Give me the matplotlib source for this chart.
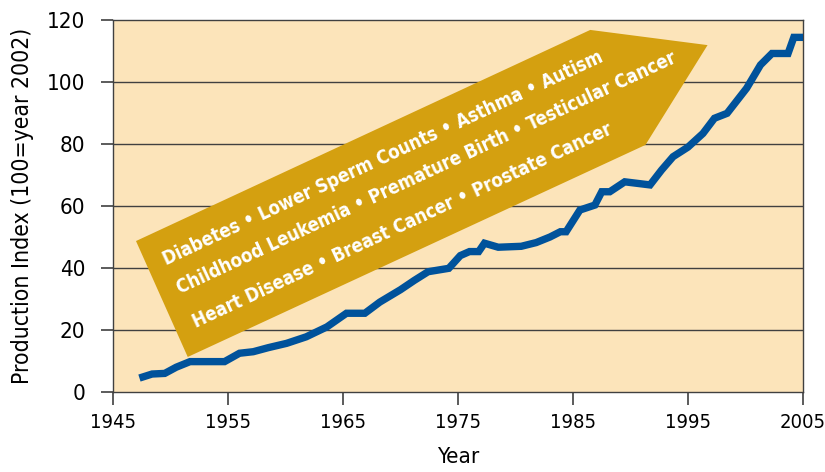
import numpy as np
import matplotlib.pyplot as plt
from matplotlib.patches import Polygon

# dados
anos = [1947.3, 1948.4, 1949.5, 1950.5, 1951.7, 1953.0, 1954.7, 1956.0, 1957.2, 1958.5,
        1960.1, 1961.8, 1963.6, 1965.3, 1966.9, 1968.2, 1970.0, 1971.2, 1972.4, 1974.2,
        1975.2, 1976.0, 1976.8, 1977.3, 1978.5, 1980.5, 1981.8, 1983.0, 1983.9, 1984.4,
        1985.6, 1986.9, 1987.5, 1988.2, 1989.5, 1991.7, 1992.7, 1993.7, 1995.0, 1996.3,
        1997.3, 1998.4, 2000.1, 2001.3, 2002.3, 2003.7, 2004.2, 2005.0]
indice = [4.5, 5.8, 6.0, 8.0, 9.8, 9.8, 9.8, 12.5, 13.0, 14.3,
          15.7, 17.8, 21.0, 25.4, 25.4, 29.0, 33.0, 36.0, 38.8, 39.9,
          44.0, 45.3, 45.3, 48.0, 46.7, 47.0, 48.2, 50.0, 51.7, 51.7,
          58.7, 60.3, 64.6, 64.6, 67.8, 66.8, 71.6, 75.9, 79.0, 83.4,
          88.3, 89.9, 98.0, 105.5, 109.2, 109.2, 114.4, 114.4]

anos_ticks = [1945, 1955, 1965, 1975, 1985, 1995, 2005]
y_ticks = [0, 20, 40, 60, 80, 100, 120]

linhas_texto = ["Diabetes \u2022 Lower Sperm Counts \u2022 Asthma \u2022 Autism",
                "Childhood Leukemia \u2022 Premature Birth \u2022 Testicular Cancer",
                "Heart Disease \u2022 Breast Cancer \u2022 Prostate Cancer"]

# seta (coordenadas em dados)
seta_x = [1947.0, 1986.5, 1996.7, 1991.3, 1951.5]
seta_y = [48.7, 116.8, 111.9, 79.7, 11.3]

plt.rcParams['font.family'] = ['DejaVu Sans']
plt.rcParams['font.stretch'] = 'condensed'

fig = plt.figure(figsize=(8.25, 4.72), dpi=100)
ax = fig.add_axes([113 / 825, 1 - 392 / 472, 690 / 825, 372 / 472])
ax.set_facecolor('#FCE4BA')

for v in y_ticks[1:-1]:
    ax.axhline(v, color='#404040', lw=1.0, zorder=1)

ax.add_patch(Polygon(list(zip(seta_x, seta_y)), closed=True,
                     facecolor='#D4A010', edgecolor='none', zorder=2))

pos_texto = [(166.7, 265), (180, 294), (196, 328)]
for (px, py), t in zip(pos_texto, linhas_texto):
    fig.text(px / 825, 1 - py / 472, t, rotation=25, rotation_mode='anchor',
             ha='left', va='baseline', color='white', fontsize=13.4,
             fontweight='bold', zorder=5)

ax.plot(anos, indice, color='#00529B', lw=5.3, solid_joinstyle='miter',
        solid_capstyle='butt', zorder=3)

ax.set_xlim(1945, 2005)
ax.set_ylim(0, 120)
ax.set_xticks(anos_ticks)
ax.set_yticks(y_ticks)
for s in ax.spines.values():
    s.set_color('#404040')
    s.set_linewidth(1.0)
ax.tick_params(direction='out', length=9, width=1.2, color='#404040',
               labelsize=16)
ax.tick_params(axis='x', pad=6, labelsize=14.5)
ax.tick_params(axis='y', pad=11)
ax.set_xlabel('Year', fontsize=16, labelpad=11)
ax.set_ylabel('Production Index (100=year 2002)', fontsize=16.5, labelpad=9)

fig.savefig('out.png', dpi=100)
